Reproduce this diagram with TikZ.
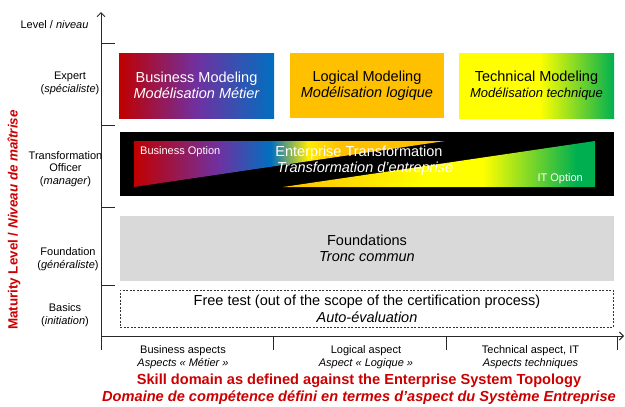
\documentclass[tikz,border=0pt]{standalone}
\usepackage{fontspec}
\setmainfont{Liberation Sans}
\usetikzlibrary{arrows.meta}
\definecolor{mred}{RGB}{192,0,0}
\definecolor{mpurple}{RGB}{112,48,160}
\definecolor{mblue}{RGB}{0,112,192}
\definecolor{morange}{RGB}{255,192,0}
\definecolor{myellow}{RGB}{255,255,0}
\definecolor{mgreen}{RGB}{0,176,80}
\definecolor{mgrey}{RGB}{217,217,217}
\definecolor{tred}{RGB}{204,0,0}
\definecolor{axisc}{RGB}{40,40,40}
\pgfdeclarehorizontalshading{bizshade}{100bp}{color(0bp)=(mred); color(25bp)=(mred); color(50bp)=(mpurple); color(75bp)=(mblue); color(100bp)=(mblue)}
\pgfdeclarehorizontalshading{techshade}{100bp}{color(0bp)=(myellow); color(25bp)=(myellow); color(51bp)=(myellow); color(75bp)=(mgreen); color(100bp)=(mgreen)}
\pgfdeclarehorizontalshading{upshade}{100bp}{color(0bp)=(mred); color(25bp)=(mred); color(38.5bp)=(mpurple); color(47bp)=(mblue); color(53bp)=(myellow!70!morange); color(58bp)=(morange); color(100bp)=(morange)}
\pgfdeclarehorizontalshading{lowshade}{100bp}{color(0bp)=(morange); color(25bp)=(morange); color(48bp)=(myellow); color(57bp)=(myellow); color(72bp)=(mgreen); color(100bp)=(mgreen)}
\tikzset{
  lbl/.style={align=center, inner sep=0pt, font=\fontsize{11}{12.8}\selectfont},
  big/.style={align=center, inner sep=0pt, font=\fontsize{14.5}{16.5}\selectfont},
  axis/.style={line width=1pt, draw=axisc},
  tick/.style={line width=1pt, draw=axisc},
  redt/.style={align=center, inner sep=0pt, text=tred, font=\fontsize{14.6}{17}\selectfont\bfseries},
}
\begin{document}
\begin{tikzpicture}[x=1pt, y=-1pt]
\useasboundingbox (0,0) rectangle (625,407);
% axes
\coordinate (ytop) at (101,12);
\coordinate (ybot) at (101,350);
\coordinate (xl) at (101,336);
\coordinate (xr) at (624,336);
\draw[axis, -{Straight Barb[length=4pt,width=8pt]}] (ybot) -- (ytop);
\draw[axis, -{Straight Barb[length=4pt,width=8pt]}] (xl) -- (xr);
\foreach \yy in {43,125,207,285} \draw[tick] (101,\yy) -- (115,\yy);
\foreach \xx in {273,446,617} \draw[tick] (\xx,336) -- (\xx,350);
% top row boxes
\node[minimum width=155pt, minimum height=65pt, shading=bizshade, inner sep=0pt] (biz) at (196.5,85.5) {};
\node[minimum width=154pt, minimum height=65pt, fill=morange, inner sep=0pt] (log) at (367,85.5) {};
\node[minimum width=155pt, minimum height=65pt, shading=techshade, inner sep=0pt] (tech) at (536.5,85.5) {};
\node[big, text=white] (bizt) at (biz) {Business Modeling\\\itshape Modélisation Métier};
\node[big, text=black] (logt) at (log) {Logical Modeling\\\itshape Modélisation logique};
\node[big, text=black] (techt) at (tech) {Technical Modeling\\[-1pt]\fontsize{13}{15}\selectfont\itshape Modélisation technique};
% transformation band
\node[minimum width=494pt, minimum height=64pt, fill=black, inner sep=0pt] (band) at (367,164) {};
\shade[shading=upshade] (134,141) -- (445,141) -- (134,187) -- cycle;
\shade[shading=lowshade] (283,187) -- (595,141) -- (595,187) -- cycle;
\node[inner sep=0pt, anchor=west, text=white, font=\fontsize{11}{12}\selectfont] (bopt) at (140,151.5) {Business Option};
\node[inner sep=0pt, anchor=east, text=white, font=\fontsize{11}{12}\selectfont] (itopt) at (583,178.5) {IT Option};
\node[big, text=white] (et1) at (359,153) {Enterprise Transformation};
\node[big, text=white] (et2) at (365,169) {\itshape Transformation d’entreprise};
% foundations
\node[minimum width=494pt, minimum height=65pt, fill=mgrey, inner sep=0pt] (found) at (367,248.5) {};
\node[big] (foundt) at (367,248.5) {Foundations\\\itshape Tronc commun};
% free test
\node[minimum width=493pt, minimum height=37pt, draw=black!80, dash pattern=on 2pt off 1.5pt, line width=0.8pt, inner sep=0pt] (free) at (366.5,308.5) {};
\node[big] (freet) at (367,309) {Free test (out of the scope of the certification process)\\\itshape Auto-évaluation};
% left labels
\node[lbl] (lev) at (54.5,25) {Level / \itshape niveau};
\node[lbl] (exp) at (70,83) {Expert\\(\textit{spécialiste})};
\node[lbl] (tro) at (65.5,169) {Transformation\\Officer\\(\textit{manager})};
\node[lbl] (fou) at (68,259.5) {Foundation\\(\textit{généraliste})};
\node[lbl] (bas) at (65,315.5) {Basics\\(\textit{initiation})};
\node[inner sep=0pt, text=tred, font=\fontsize{13.4}{15}\selectfont\bfseries, rotate=90] (mat) at (14,220) {Maturity Level / \itshape Niveau de maîtrise};
% bottom labels
\node[lbl] (ba) at (183,357.5) {Business aspects\\\itshape Aspects « Métier »};
\node[lbl] (la) at (366,357.5) {Logical aspect\\\itshape Aspect « Logique »};
\node[lbl] (ta) at (530.5,357.5) {Technical aspect, IT\\\itshape Aspects techniques};
\node[redt] (skill) at (359,389.5) {Skill domain as defined against the Enterprise System Topology\\\itshape Domaine de compétence défini en termes d’aspect du Système Entreprise};
\end{tikzpicture}
\end{document}
